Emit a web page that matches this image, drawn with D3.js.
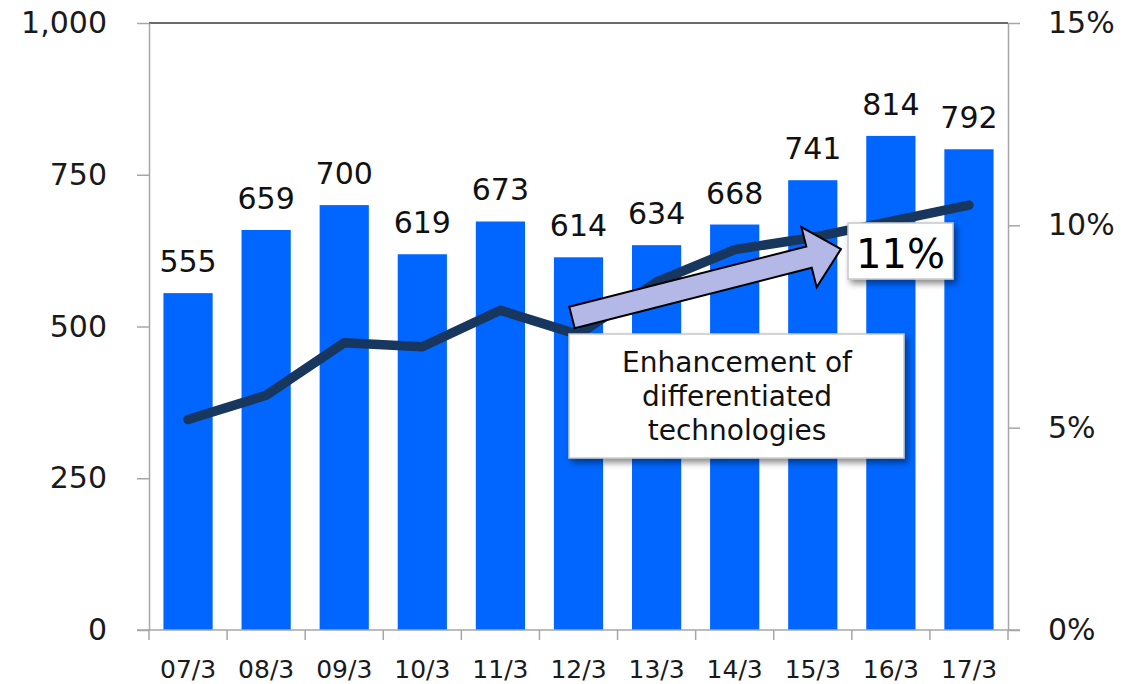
<!DOCTYPE html>
<html><head><meta charset="utf-8">
<script src="https://cdn.jsdelivr.net/npm/d3@7"></script>
<style>
body{margin:0;background:#fff}
svg{display:block}
text{font-family:"DejaVu Sans",Verdana,sans-serif}
</style>
</head><body>
<svg id="c" width="1135" height="684"></svg>
<script>
const categories = ["07/3","08/3","09/3","10/3","11/3","12/3","13/3","14/3","15/3","16/3","17/3"];
const sales = [555,659,700,619,673,614,634,668,741,814,792];
const ratio = [5.2,5.8,7.1,7.0,7.9,7.3,8.6,9.4,9.7,10.1,10.5];
const leftTicks = [0,250,500,750,1000];
const rightTicks = [0,5,10,15];
const noteText = ["Enhancement of","differentiated","technologies"];
const badgeText = "11%";

const svg = d3.select("#c");
const L = 149, R = 1008, T = 23, B = 630;

const x = d3.scaleBand().domain(categories).range([L, R]).paddingInner(0.37).paddingOuter(0.185);
const y = d3.scaleLinear().domain([0, 1000]).range([B, T]);
const y2 = d3.scaleLinear().domain([0, 15]).range([B, T]);

const axisColor = "#a6a6a6";

// top border
svg.append("line").attr("x1", L).attr("x2", R).attr("y1", T).attr("y2", T)
  .attr("stroke", "#3a3a3a").attr("stroke-width", 1.5);

// bars
svg.append("g").selectAll("rect").data(sales).join("rect")
  .attr("x", (d, i) => x(categories[i]))
  .attr("width", x.bandwidth())
  .attr("y", d => y(d))
  .attr("height", d => B - y(d))
  .attr("fill", "#0066ff");

// left axis
const gl = svg.append("g").attr("transform", `translate(${L},0)`)
  .call(d3.axisLeft(y).tickValues(leftTicks).tickFormat(d3.format(",")).tickSize(12).tickSizeOuter(0).tickPadding(30));
// right axis
const gr = svg.append("g").attr("transform", `translate(${R},0)`)
  .call(d3.axisRight(y2).tickValues(rightTicks).tickFormat(d => d + "%").tickSize(12).tickSizeOuter(0).tickPadding(28));
// bottom axis (labels)
const gb = svg.append("g").attr("transform", `translate(0,${B})`)
  .call(d3.axisBottom(x).tickSize(0).tickPadding(30));
// boundary ticks
svg.append("g").selectAll("line").data(d3.range(categories.length + 1)).join("line")
  .attr("x1", i => L + i * x.step()).attr("x2", i => L + i * x.step())
  .attr("y1", B).attr("y2", B + 10)
  .attr("stroke", axisColor).attr("stroke-width", 1.5);

[gl, gr, gb].forEach(g => {
  g.selectAll(".domain").attr("stroke", axisColor).attr("stroke-width", 1.5);
  g.selectAll(".tick line").attr("stroke", axisColor).attr("stroke-width", 1.5);
  g.selectAll("text").attr("fill", "#1a1a1a").style("font-family", '"DejaVu Sans",Verdana,sans-serif');
});
gl.selectAll("text").style("font-size", "30px");
gr.selectAll("text").style("font-size", "30px");
gb.selectAll("text").style("font-size", "25px");
gb.select(".domain").attr("d", `M${L - 12},0H${R + 12}`);

// ratio line
const line = d3.line().x((d, i) => x(categories[i]) + x.bandwidth() / 2).y(d => y2(d));
svg.append("path").datum(ratio).attr("d", line)
  .attr("fill", "none").attr("stroke", "#17375e").attr("stroke-width", 9.5)
  .attr("stroke-linecap", "round").attr("stroke-linejoin", "round");

// data labels
svg.append("g").selectAll("text").data(sales).join("text")
  .attr("x", (d, i) => x(categories[i]) + x.bandwidth() / 2)
  .attr("y", d => y(d) - 21)
  .attr("text-anchor", "middle")
  .attr("fill", "#111")
  .style("font-size", "30px")
  .text(d => d);

// shadow filter
const defs = svg.append("defs");
const f = defs.append("filter").attr("id", "sh").attr("x", "-10%").attr("y", "-10%").attr("width", "130%").attr("height", "140%");
f.append("feDropShadow").attr("dx", 3).attr("dy", 4).attr("stdDeviation", 3)
  .attr("flood-color", "#000").attr("flood-opacity", 0.45);

// arrow annotation
const tail = [572, 317.5], tip = [841, 249];
const ang = Math.atan2(tip[1] - tail[1], tip[0] - tail[0]) * 180 / Math.PI;
const len = Math.hypot(tip[0] - tail[0], tip[1] - tail[1]);
const hl = 33, sw = 11, hw = 31;
const pts = [[0, -sw], [len - hl, -sw], [len - hl, -hw], [len, 0], [len - hl, hw], [len - hl, sw], [0, sw]];
svg.append("polygon")
  .attr("points", pts.map(p => p.join(",")).join(" "))
  .attr("transform", `translate(${tail[0]},${tail[1]}) rotate(${ang})`)
  .attr("fill", "#b4b8e6").attr("stroke", "#000").attr("stroke-width", 2).attr("stroke-linejoin", "miter");

// note box
svg.append("rect").attr("x", 569).attr("y", 334).attr("width", 335).attr("height", 124)
  .attr("fill", "#fff").attr("stroke", "#c8c8c8").attr("stroke-width", 1.5).attr("filter", "url(#sh)");
svg.append("g").selectAll("text").data(noteText).join("text")
  .attr("x", 737).attr("y", (d, i) => 372 + i * 34)
  .attr("text-anchor", "middle").attr("fill", "#111").style("font-size", "28px")
  .text(d => d);

// badge box
svg.append("rect").attr("x", 848).attr("y", 223).attr("width", 105).attr("height", 56)
  .attr("fill", "#fff").attr("stroke", "#c8c8c8").attr("stroke-width", 1.5).attr("filter", "url(#sh)");
svg.append("text").attr("x", 900.5).attr("y", 268).attr("text-anchor", "middle")
  .attr("fill", "#000").style("font-size", "40px").text(badgeText);
</script>
</body></html>
